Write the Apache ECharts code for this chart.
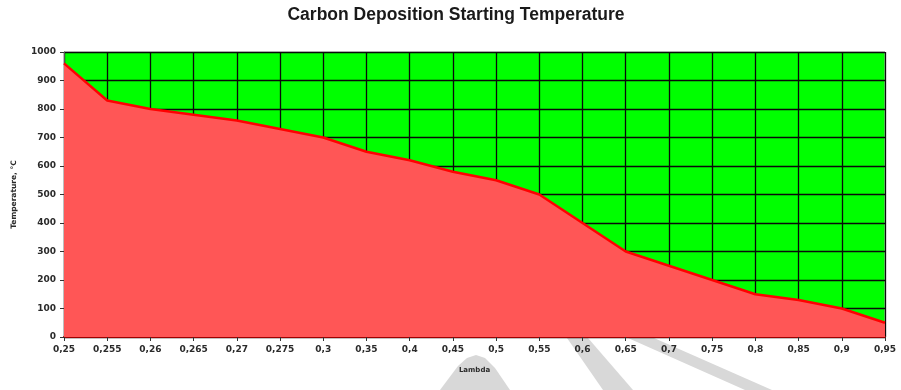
<!DOCTYPE html>
<html>
<head>
<meta charset="utf-8">
<script src="https://cdn.jsdelivr.net/npm/echarts@6/dist/echarts.min.js"></script>
<style>
  html, body { margin: 0; padding: 0; background: #ffffff; }
  #chart { width: 901px; height: 390px; }
</style>
</head>
<body>
<div id="chart"></div>
<script>
// Air ratio (lambda) values along the horizontal axis
const lambdaLabels = ['0,25', '0,255', '0,26', '0,265', '0,27', '0,275', '0,3', '0,35', '0,4', '0,45',
  '0,5', '0,55', '0,6', '0,65', '0,7', '0,75', '0,8', '0,85', '0,9', '0,95'];

// Temperature (°C) at which carbon deposition begins
const startTemperature = [960, 830, 800, 780, 760, 730, 700, 650, 620, 580,
  550, 500, 400, 300, 250, 200, 150, 130, 100, 50];

// Temperature axis range
const tempMin = 0;
const tempMax = 1000;
const tempStep = 100;

const chart = echarts.init(document.getElementById('chart'), null, { renderer: 'canvas' });

const labelFont = {
  fontFamily: 'DejaVu Sans',
  fontWeight: 'bold',
  fontSize: 9,
  color: '#2a2a2a'
};

// light grey diagonal strokes of the document watermark
const watermarkFill = '#d8d8d8';
const watermark = [
  [[440, 390], [458, 366], [467, 358], [476, 355], [485, 358], [495, 368], [510, 390]],
  [[567, 338], [588, 338], [633, 390], [603, 390]],
  [[628, 338], [654, 338], [772, 390], [745, 390]]
].map(function (pts) {
  return {
    type: 'polygon',
    silent: true,
    z: -1,
    shape: { points: pts },
    style: { fill: watermarkFill }
  };
});

chart.setOption({
  animation: false,
  backgroundColor: '#ffffff',
  title: {
    text: 'Carbon Deposition Starting Temperature',
    left: 451,
    textAlign: 'center',
    top: 1,
    textStyle: {
      fontFamily: 'Liberation Sans',
      fontWeight: 'bold',
      fontSize: 17.5,
      color: '#1a1a1a'
    }
  },
  graphic: watermark,
  grid: {
    left: 64,
    right: 16,
    top: 52,
    bottom: 53,
    show: true,
    backgroundColor: '#00ff00',
    borderColor: '#c0c0c0',
    borderWidth: 1
  },
  xAxis: {
    type: 'category',
    data: lambdaLabels,
    boundaryGap: false,
    name: 'Lambda',
    nameLocation: 'middle',
    nameGap: 30,
    nameTextStyle: {
      fontFamily: 'DejaVu Sans',
      fontWeight: 'bold',
      fontSize: 7,
      color: '#2a2a2a'
    },
    axisLine: { show: true, lineStyle: { color: '#a00000', width: 2 } },
    axisTick: { show: true, alignWithLabel: true, length: 4, lineStyle: { color: '#333333' } },
    axisLabel: Object.assign({ margin: 8, interval: 0 }, labelFont),
    splitLine: { show: true, lineStyle: { color: '#0a0a0a', width: 1.3 } }
  },
  yAxis: {
    type: 'value',
    min: tempMin,
    max: tempMax,
    interval: tempStep,
    name: 'Temperature, °C',
    nameLocation: 'middle',
    nameRotate: 90,
    nameGap: 46,
    nameTextStyle: {
      fontFamily: 'DejaVu Sans',
      fontWeight: 'bold',
      fontSize: 7.5,
      color: '#2a2a2a'
    },
    axisLine: { show: true, lineStyle: { color: '#555555', width: 1 } },
    axisTick: { show: true, length: 4, lineStyle: { color: '#333333' } },
    axisLabel: Object.assign({ margin: 8, formatter: function (v) { return String(v); } }, labelFont),
    splitLine: { show: true, lineStyle: { color: '#0a0a0a', width: 1.3 } }
  },
  series: [{
    type: 'line',
    data: startTemperature,
    symbol: 'none',
    lineStyle: { color: '#ff0000', width: 2.5 },
    areaStyle: { color: '#ff5656', opacity: 1 },
    z: 3
  }]
});
</script>
</body>
</html>
